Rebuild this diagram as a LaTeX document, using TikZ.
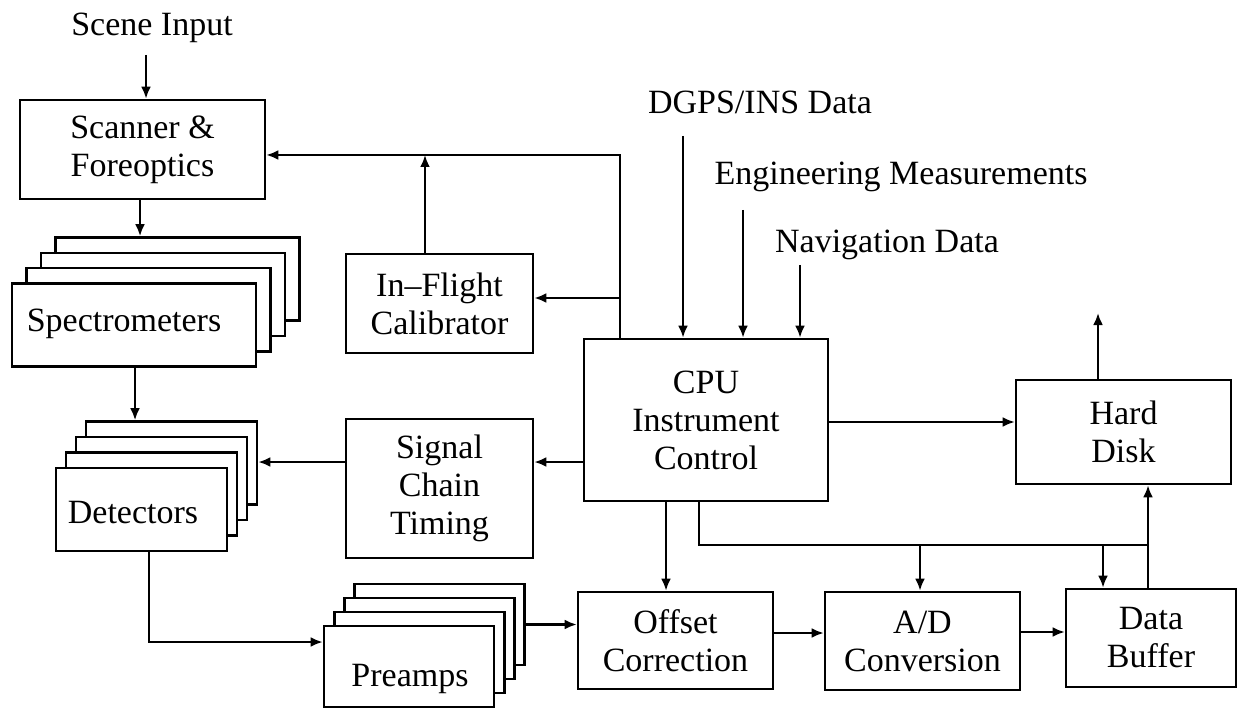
\documentclass[tikz,border=0pt]{standalone}
\usepackage{fontspec}
\setmainfont{Liberation Serif}
\usetikzlibrary{arrows.meta}
\begin{document}
\begin{tikzpicture}[x=1pt,y=-1pt,
  box/.style={draw,line width=2.6pt,fill=white,inner sep=0pt,align=center,font=\fontsize{34}{38}\selectfont},
  txt/.style={inner sep=0pt,align=center,font=\fontsize{34}{38}\selectfont},
  arr/.style={line width=2.4pt,-{Latex[length=12pt,width=10pt]}},
  ln/.style={line width=2.4pt}]
\useasboundingbox (0,0) rectangle (1238,708);
\fill[white] (0,0) rectangle (1238,708);

% plain boxes
\node[box,minimum width=245pt,minimum height=99pt] (scan) at (142.5,149.5) {Scanner \&\\Foreoptics};
\node[box,minimum width=187pt,minimum height=99pt] (ifc) at (439.5,303.5) {In--Flight\\Calibrator};
\node[box,minimum width=187pt,minimum height=139pt] (sct) at (439.5,488.5) {Signal\\Chain\\Timing};
\node[box,minimum width=244pt,minimum height=162pt] (cpu) at (706,420) {CPU\\Instrument\\Control};
\node[box,minimum width=215pt,minimum height=104pt] (hd) at (1123.5,432) {Hard\\Disk};
\node[box,minimum width=195pt,minimum height=97pt] (off) at (675.5,640.5) {Offset\\Correction};
\node[box,minimum width=195pt,minimum height=98pt] (ad) at (922.5,641) {A/D\\Conversion};
\node[box,minimum width=170pt,minimum height=98pt] (db) at (1151,638) {Data\\Buffer};

% stacked boxes
\tikzset{specbox/.style={box,minimum width=244pt,minimum height=83pt},
         detbox/.style={box,minimum width=171pt,minimum height=83pt},
         prebox/.style={box,minimum width=170pt,minimum height=81pt}}
\node[specbox] (spec4) at (177.5,279) {};
\node[specbox] (spec3) at (163,294.4) {};
\node[specbox] (spec2) at (148.5,309.7) {};
\node[specbox] (spec1) at (134,325) {};
\node[txt] (spectxt) at (124,324) {Spectrometers};

\node[detbox] (det4) at (171.5,463) {};
\node[detbox] (det3) at (161.5,478.5) {};
\node[detbox] (det2) at (151.5,494) {};
\node[detbox] (det1) at (141.5,509.5) {};
\node[txt] (dettxt) at (133,512.5) {Detectors};

\node[prebox] (pre4) at (439.5,624.5) {};
\node[prebox] (pre3) at (429.3,638.5) {};
\node[prebox] (pre2) at (419.2,652.5) {};
\node[prebox] (pre1) at (409,666.5) {};
\node[txt] (pretxt) at (410,679) {Preamps};

% free labels
\node[txt] (scene) at (152,28) {Scene Input};
\node[txt] (dgps) at (760,102) {DGPS/INS Data};
\node[txt] (eng) at (901,177) {Engineering Measurements};
\node[txt] (nav) at (887,245) {Navigation Data};

% connectors
\coordinate (scin) at (146,55);
\draw[arr] (scin) -- (scin |- scan.north);
\coordinate (x140) at (140,0);
\draw[arr] (scan.south -| x140) -- (spec4.north -| x140);
\coordinate (x135) at (135,0);
\draw[arr] (spec1.south -| x135) -- (det4.north -| x135);
\coordinate (dp) at (149,642);
\draw[arr] (det1.south -| dp) |- (pre1.west |- dp);
\draw[arr] (pre4.east) -- (off.west |- pre4.east);
\coordinate (oa) at (0,633);
\draw[arr] (off.east |- oa) -- (ad.west |- oa);
\coordinate (ab) at (0,632);
\draw[arr] (ad.east |- ab) -- (db.west |- ab);
\coordinate (ch) at (0,422);
\draw[arr] (cpu.east |- ch) -- (hd.west |- ch);
\coordinate (hdo) at (1098,313);
\draw[arr] (hd.north -| hdo) -- (hdo);
\coordinate (cs) at (0,462);
\draw[arr] (cpu.west |- cs) -- (sct.east |- cs);
\draw[arr] (sct.west |- cs) -- (det4.east |- cs);
\coordinate (topc) at (620,155);
\draw[arr] (cpu.north -| topc) -- (topc) -- (scan.east |- topc);
\coordinate (ifb) at (620,298);
\draw[arr] (ifb) -- (ifc.east |- ifb);
\coordinate (ifu) at (425,155);
\draw[arr] (ifc.north -| ifu) -- (ifu);
\coordinate (dg) at (683,136);
\draw[arr] (dg) -- (dg |- cpu.north);
\coordinate (em) at (743,210);
\draw[arr] (em) -- (em |- cpu.north);
\coordinate (nv) at (800,265);
\draw[arr] (nv) -- (nv |- cpu.north);
\coordinate (x666) at (666,0);
\draw[arr] (cpu.south -| x666) -- (off.north -| x666);
\coordinate (bus0) at (699,545);
\coordinate (bus1) at (1148,545);
\draw[ln] (cpu.south -| bus0) |- (bus1);
\coordinate (b920) at (920,545);
\draw[arr] (b920) -- (b920 |- ad.north);
\coordinate (b1103) at (1103,545);
\draw[arr] (b1103) -- (b1103 |- db.north);
\draw[arr] (db.north -| bus1) -- (hd.south -| bus1);
\end{tikzpicture}
\end{document}
